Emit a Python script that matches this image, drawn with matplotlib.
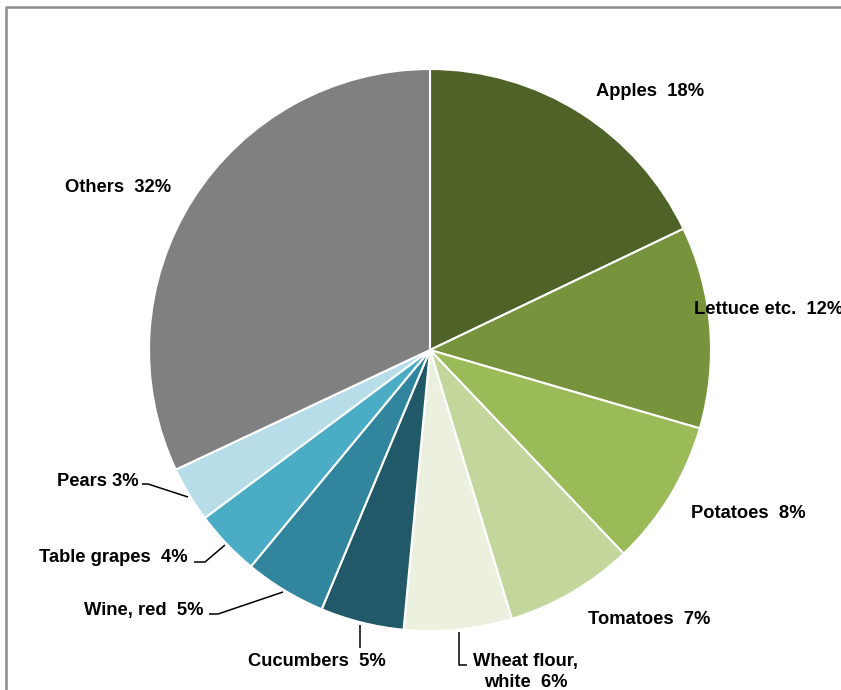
import matplotlib
matplotlib.use("Agg")
import matplotlib.pyplot as plt

categories = ["Apples", "Lettuce etc.", "Potatoes", "Tomatoes", "Wheat flour, white",
              "Cucumbers", "Wine, red", "Table grapes", "Pears", "Others"]
shares = [17.9, 11.6, 8.4, 7.4, 6.2, 4.8, 4.7, 3.8, 3.2, 32.0]
label_texts = ["Apples  18%", "Lettuce etc.  12%", "Potatoes  8%", "Tomatoes  7%",
               "Wheat flour,\nwhite  6%", "Cucumbers  5%", "Wine, red  5%",
               "Table grapes  4%", "Pears 3%", "Others  32%"]
colors = ["#4F6228", "#77933C", "#9BBB59", "#C3D69B", "#EBF1DE",
          "#215968", "#31859C", "#4BACC6", "#B7DEE8", "#808080"]

W, H = 841, 690
fig = plt.figure(figsize=(W / 100, H / 100), dpi=100)
ax = fig.add_axes([0, 0, 1, 1])

def P(x, y):
    return x, H - y

cx, cy = P(430, 350)
ax.pie(shares, colors=colors, startangle=90, counterclock=False,
       center=(cx, cy), radius=281,
       wedgeprops=dict(edgecolor="white", linewidth=1.5))
ax.set_xlim(0, W)
ax.set_ylim(0, H)
ax.set_aspect("auto")
ax.axis("off")

font = dict(family=["Liberation Sans", "DejaVu Sans"], fontsize=13.2,
            fontweight="bold", color="black")

# label positions (pixel coords)
label_pos = [
    (596, 91, "left"),
    (694, 310, "left"),
    (691, 513, "left"),
    (588, 619, "left"),
    (526, 672, "center"),
    (248, 662, "left"),
    (84, 611, "left"),
    (39, 557, "left"),
    (57, 481, "left"),
    (65, 187, "left"),
]
for txt, (x, y, ha) in zip(label_texts, label_pos):
    ax.text(*P(x, y), txt, ha=ha, va="center", linespacing=1.25, **font)

# leader lines
leaders = [
    [(459, 632), (459, 665), (467, 665)],
    [(360, 625), (360, 648)],
    [(283, 592), (218, 614), (209, 614)],
    [(225, 545), (205, 562), (194, 562)],
    [(188, 497), (148, 484), (142, 484)],
]
for pts in leaders:
    xs = [P(x, y)[0] for x, y in pts]
    ys = [P(x, y)[1] for x, y in pts]
    ax.plot(xs, ys, color="black", lw=1.1, solid_capstyle="butt")

# chart border (top and left visible)
ax.plot([6.5, 6.5, W + 5], [0, H - 6.5, H - 6.5], color="#8c8c8c", lw=1.8,
        clip_on=False)

fig.savefig("out.png", dpi=100, facecolor="white")
